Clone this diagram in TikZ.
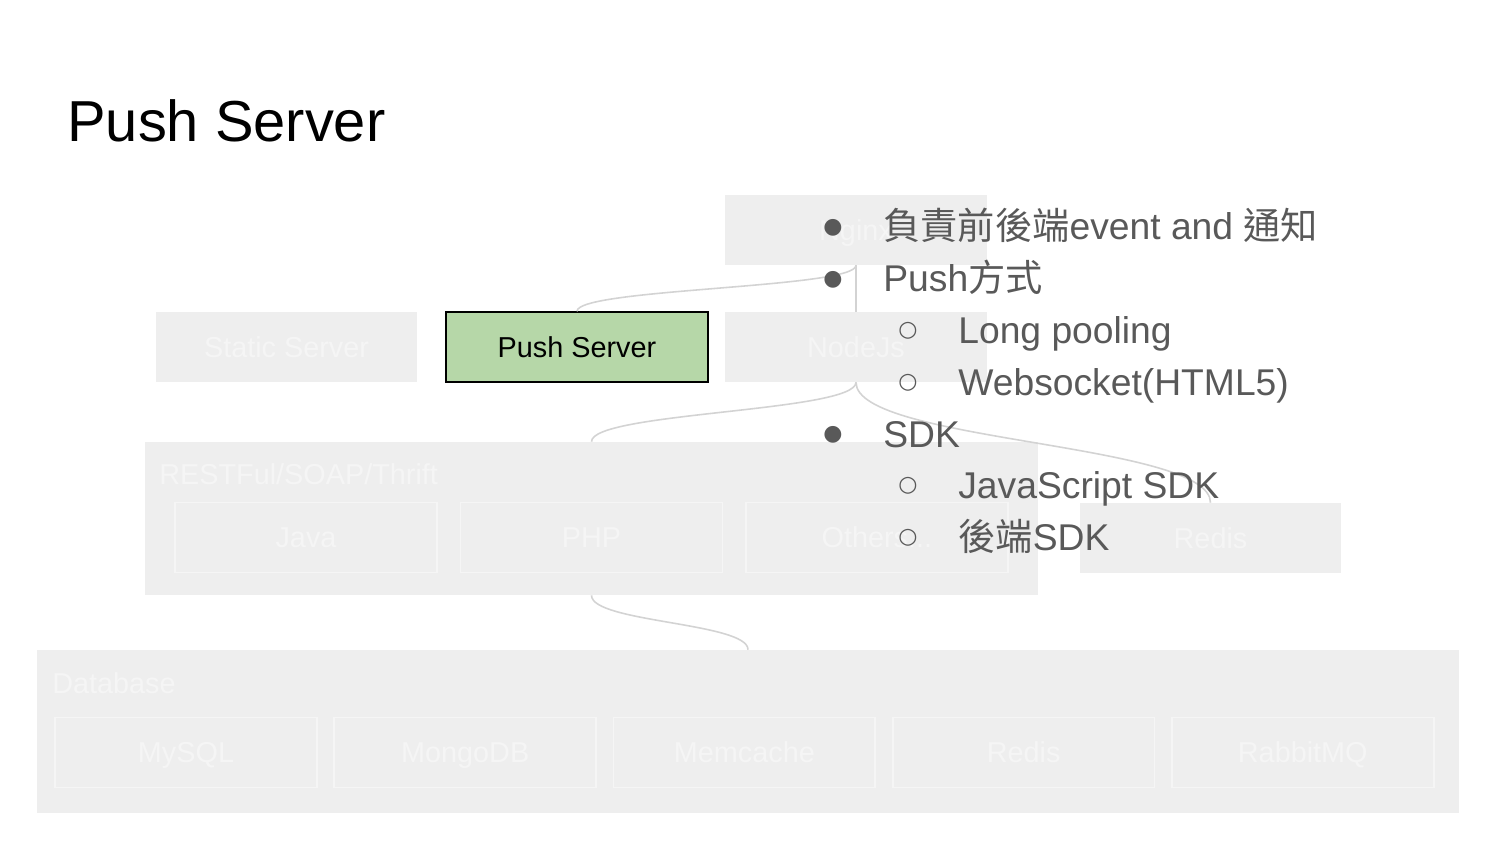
\documentclass[tikz,border=0pt]{standalone}
\usepackage{fontspec}
\setmainfont{Liberation Sans}
\newfontfamily\cjk{Noto Sans CJK TC}
\newfontfamily\symfont{DejaVu Sans}
\usetikzlibrary{positioning,calc}
\definecolor{boxgray}{HTML}{EEEEEE}
\definecolor{fadetext}{HTML}{F5F5F5}
\definecolor{linegray}{HTML}{D3D3D3}
\definecolor{bodytext}{HTML}{595959}
\definecolor{pushgreen}{HTML}{B6D7A8}

\begin{document}
\begin{tikzpicture}[x=0.02cm,y=-0.02cm,node distance=5.585cm,
  box/.style={fill=boxgray,minimum width=5.24cm,minimum height=1.4cm,text=fadetext,text height=15.3pt,text depth=3.4pt,font=\fontsize{16.4}{18}\selectfont},
  inbox/.style={box,draw=fadetext,line width=1pt},
  group/.style={fill=boxgray},
  grouplabel/.style={anchor=west,inner sep=0pt,text=fadetext,font=\fontsize{16.4}{18}\selectfont},
  link/.style={draw=linegray,line width=0.9pt,to path={.. controls ($(\tikztostart)!0.5!(\tikztostart|-\tikztotarget)$) and ($(\tikztotarget)!0.5!(\tikztotarget|-\tikztostart)$) .. (\tikztotarget)}},
  item/.style={anchor=base west,inner sep=0pt,text=bodytext,font=\fontsize{21.2}{24}\selectfont},
  dot/.style={inner sep=0pt,text=bodytext,font=\symfont\fontsize{12.5}{12.5}\selectfont}]

\useasboundingbox (0,0) rectangle (1500,844);

\node[anchor=base west,inner sep=0pt,font=\fontsize{32.9}{38}\selectfont](title) at (67,142){Push Server};

% top rows
\node[box](nginx) at (856,230){Nginx};
\node[box](static) at (286.5,347){Static Server};
\node[draw=black,fill=pushgreen,line width=0.8pt,minimum width=5.24cm,minimum height=1.4cm,font=\fontsize{16.4}{18}\selectfont](push) at (577,347){Push Server};
\node[box](nodejs) at (856,347){NodeJs};

% api layer
\node[group,minimum width=17.86cm,minimum height=3.06cm](api) at (591.5,518.5){};
\node[grouplabel](apilabel) at (159,474){RESTFul/SOAP/Thrift};
\node[inbox](java) at (306,537.5){Java};
\node[inbox,node distance=5.71cm](php)[right of=java]{PHP};
\node[inbox,node distance=5.71cm](others)[right of=php]{Others...};
\node[box](redis) at (1210.5,538){Redis};

% storage
\node[group,minimum width=28.44cm,minimum height=3.26cm](db) at (748,731.5){};
\node[grouplabel](dblabel) at (52,683){Database};
\node[inbox](mysql) at (186,752.5){MySQL};
\node[inbox](mongo)[right of=mysql]{MongoDB};
\node[inbox](memcache)[right of=mongo]{Memcache};
\node[inbox](dbredis)[right of=memcache]{Redis};
\node[inbox](rabbit)[right of=dbredis]{RabbitMQ};

\path(nginx.south)edge[link](push.north)
	(nginx.south)edge[link](nodejs.north)
	(nodejs.south)edge[link](api.north)
	(nodejs.south)edge[link](redis.north)
	(api.south)edge[link](db.north);

% bullet list
\node[dot](b1) at (833,228){●};
\node[item](t1) at (883,240){{\cjk 負責前後端}event and {\cjk 通知}};
\node[dot](b2) at (833,280){●};
\node[item](t2) at (883,292){Push{\cjk 方式}};
\node[dot](b3) at (908,331){○};
\node[item](t3) at (958,343){Long pooling};
\node[dot](b4) at (908,383){○};
\node[item](t4) at (958,395){Websocket(HTML5)};
\node[dot](b5) at (833,435){●};
\node[item](t5) at (883,447){SDK};
\node[dot](b6) at (908,486){○};
\node[item](t6) at (958,498){JavaScript SDK};
\node[dot](b7) at (908,538){○};
\node[item](t7) at (958,550){{\cjk 後端}SDK};

\end{tikzpicture}
\end{document}
